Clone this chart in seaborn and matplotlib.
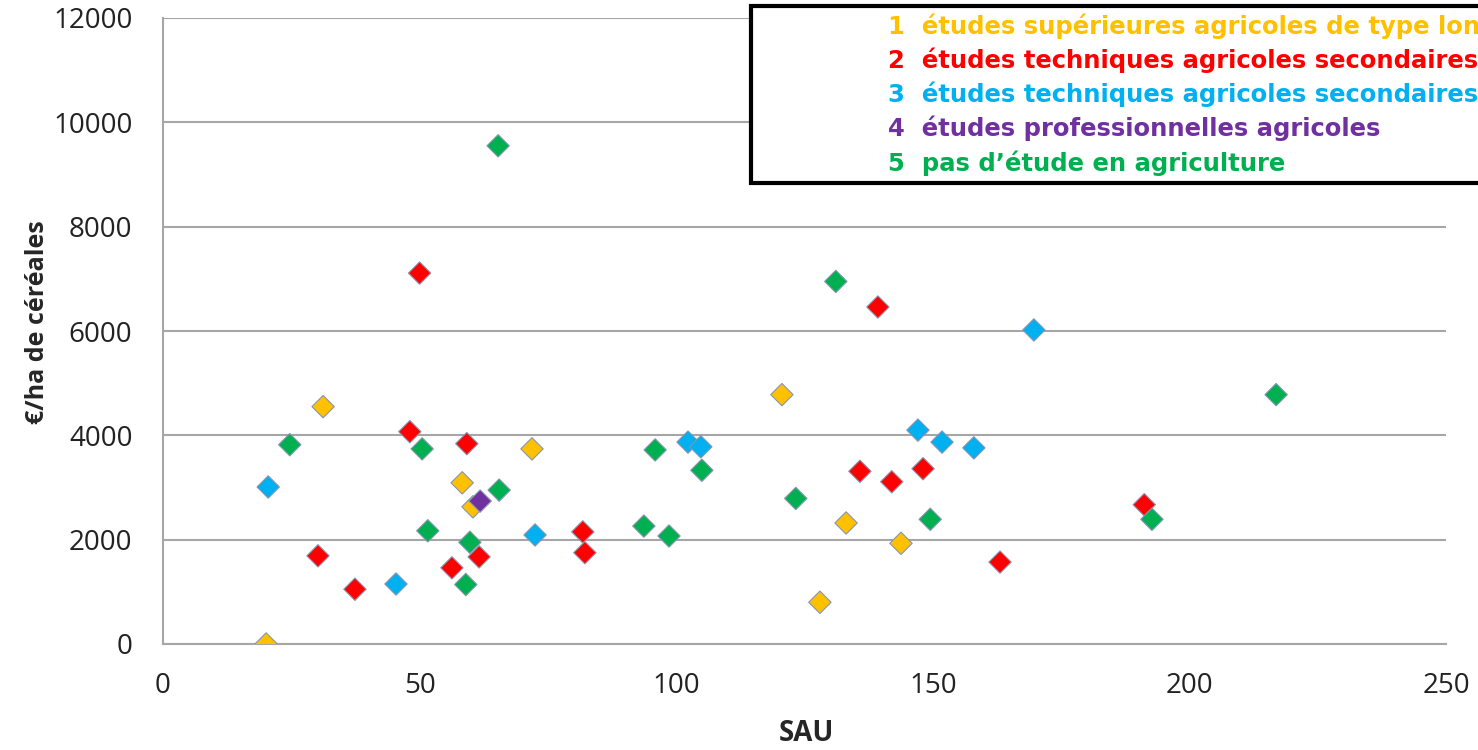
import matplotlib
matplotlib.use("Agg")
import matplotlib.pyplot as plt
import seaborn as sns
import pandas as pd
from matplotlib.lines import Line2D

# ---- data ----
labels = [
    "1  études supérieures agricoles de type long",
    "2  études techniques agricoles secondaires supérieures",
    "3  études techniques agricoles secondaires inférieures",
    "4  études professionnelles agricoles",
    "5  pas d\u2019étude en agriculture",
]
colors = ["#FFC000", "#FF0000", "#00B0F0", "#7030A0", "#00B050"]

sau_1 = [20.1, 31.2, 58.3, 60.4, 71.9, 120.6, 128.0, 133.1, 143.8]
val_1 = [0, 4550, 3090, 2630, 3740, 4780, 800, 2320, 1930]

sau_2 = [30.2, 37.4, 48.1, 50.0, 56.3, 59.2, 61.6, 81.8, 82.2, 135.8, 139.3, 142.0, 148.1, 163.1, 191.2]
val_2 = [1690, 1050, 4070, 7110, 1460, 3840, 1670, 2150, 1750, 3310, 6460, 3110, 3360, 1570, 2670]

sau_3 = [20.5, 45.4, 72.5, 102.3, 104.8, 147.1, 151.8, 158.0, 169.7]
val_3 = [3010, 1150, 2090, 3870, 3780, 4100, 3870, 3760, 6020]

sau_4 = [61.8]
val_4 = [2740]

sau_5 = [24.7, 50.5, 51.6, 59.0, 59.8, 65.5, 65.3, 93.7, 95.9, 98.6, 105.0, 123.3, 131.1, 149.5, 192.7, 216.9]
val_5 = [3820, 3740, 2170, 1140, 1950, 2950, 9550, 2260, 3720, 2070, 3330, 2790, 6950, 2390, 2390, 4780]

x_ticks = [0, 50, 100, 150, 200, 250]
y_ticks = [0, 2000, 4000, 6000, 8000, 10000, 12000]

frames = []
for lab, xs, ys in zip(labels, [sau_1, sau_2, sau_3, sau_4, sau_5], [val_1, val_2, val_3, val_4, val_5]):
    frames.append(pd.DataFrame({"SAU": xs, "val": ys, "groupe": lab}))
df = pd.concat(frames, ignore_index=True)

# ---- figure ----
sns.set_style("white")
plt.rcParams["font.family"] = ["Open Sans", "DejaVu Sans"]
fig = plt.figure(figsize=(14.78, 7.5), dpi=100)
ax = fig.add_axes([163 / 1478, 1 - 644 / 750, (1446 - 163) / 1478, (644 - 18) / 750])

sns.scatterplot(data=df, x="SAU", y="val", hue="groupe", hue_order=labels,
                palette=colors, marker="D", s=130, edgecolor="#8595b0",
                linewidth=0.8, ax=ax, legend=False, zorder=3)

ax.set_xlim(0, 250)
ax.set_ylim(0, 12000)
ax.set_xticks(x_ticks)
ax.set_yticks(y_ticks)
ax.yaxis.grid(True, color="#A6A6A6", linewidth=1.5)
ax.xaxis.grid(False)
ax.set_axisbelow(True)
for s in ["top", "right"]:
    ax.spines[s].set_visible(False)
for s in ["left", "bottom"]:
    ax.spines[s].set_color("#A6A6A6")
    ax.spines[s].set_linewidth(1.5)
ax.tick_params(axis="both", which="major", direction="out", length=10, width=1.3,
               color="#A6A6A6", labelsize=20, labelcolor="#222222")
ax.tick_params(axis="x", pad=10)
ax.tick_params(axis="y", pad=12)

ax.set_xlabel("SAU", fontsize=20, fontweight="bold")
ax.xaxis.set_label_coords((806 - 163) / 1283, (644 - 719) / 626)
ax.set_ylabel("€/ha de céréales", fontsize=18, fontweight="bold")
ax.yaxis.set_label_coords((50 - 163) / 1283, (644 - 322) / 626)

handles = [Line2D([], [], linestyle="none", marker=None) for _ in labels]
leg = fig.legend(handles, labels, loc="upper left",
                 bbox_to_anchor=(751 / 1478, 1 - 6 / 750),
                 bbox_transform=fig.transFigure,
                 prop={"family": "DejaVu Sans", "weight": "bold", "size": 17.5},
                 labelcolor=colors, frameon=True, fancybox=False,
                 shadow=False, borderpad=0.29, handlelength=4.55, handletextpad=0.8,
                 labelspacing=0.36, borderaxespad=0)
frame = leg.get_frame()
frame.set_edgecolor("black")
frame.set_linewidth(3)
frame.set_alpha(1)

fig.savefig("out.png", dpi=100)
